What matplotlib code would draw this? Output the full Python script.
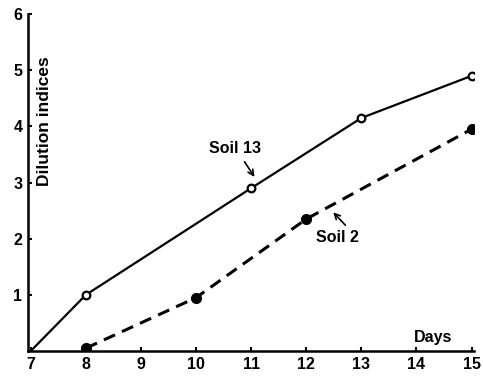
import matplotlib.pyplot as plt

# values
days_soil13 = [7, 8, 11, 13, 15]
dil_soil13 = [0.0, 1.0, 2.9, 4.15, 4.9]
days_soil2 = [8, 10, 12, 15]
dil_soil2 = [0.05, 0.95, 2.35, 3.95]
xticks = [7, 8, 9, 10, 11, 12, 13, 14, 15]
yticks = [1, 2, 3, 4, 5, 6]

plt.rcParams['font.family'] = ['Liberation Sans', 'DejaVu Sans']
plt.rcParams['font.weight'] = 'bold'

fig = plt.figure(figsize=(4.83, 3.76), dpi=100)
ax = fig.add_axes([0.058, 0.0665, 0.924, 0.896])

# Soil 13: solid line, open circles (no marker at origin)
ax.plot(days_soil13, dil_soil13, color='black', lw=1.6, zorder=2)
ax.plot(days_soil13[1:], dil_soil13[1:], 'o', ms=5.5, mfc='white', mec='black',
        mew=1.6, zorder=3)

# Soil 2: dashed line, filled circles
ax.plot(days_soil2, dil_soil2, color='black', lw=2.2, ls=(0, (4, 2.5)), zorder=2)
ax.plot(days_soil2, dil_soil2, 'o', ms=7, color='black', zorder=3)

# labels with short pointer arrows
arrow = dict(arrowstyle='->', color='black', lw=1.2, shrinkA=0, shrinkB=0)
ax.text(10.7, 3.6, 'Soil 13', fontsize=11.5, fontweight='bold', ha='center', va='center')
ax.annotate('', xy=(11.06, 3.1), xytext=(10.88, 3.37), arrowprops=arrow)
ax.text(12.56, 2.02, 'Soil 2', fontsize=11.5, fontweight='bold', ha='center', va='center')
ax.annotate('', xy=(12.49, 2.47), xytext=(12.71, 2.24), arrowprops=arrow)

ax.text(13.95, 0.1, 'Days', fontsize=11.5, fontweight='bold', ha='left', va='bottom')
ax.text(7.12, 4.1, 'Dilution indices', fontsize=12.5, fontweight='bold',
        rotation=90, ha='left', va='center')

ax.set_xlim(6.95, 15.05)
ax.set_ylim(0, 6)
ax.set_xticks(xticks)
ax.set_yticks(yticks)
ax.tick_params(direction='in', length=3, width=1.5, labelsize=11.5, pad=4)
for lab in ax.get_xticklabels() + ax.get_yticklabels():
    lab.set_fontweight('bold')

for side in ['top', 'right']:
    ax.spines[side].set_visible(False)
for side in ['left', 'bottom']:
    ax.spines[side].set_linewidth(1.8)

fig.savefig('out.png', dpi=100)
